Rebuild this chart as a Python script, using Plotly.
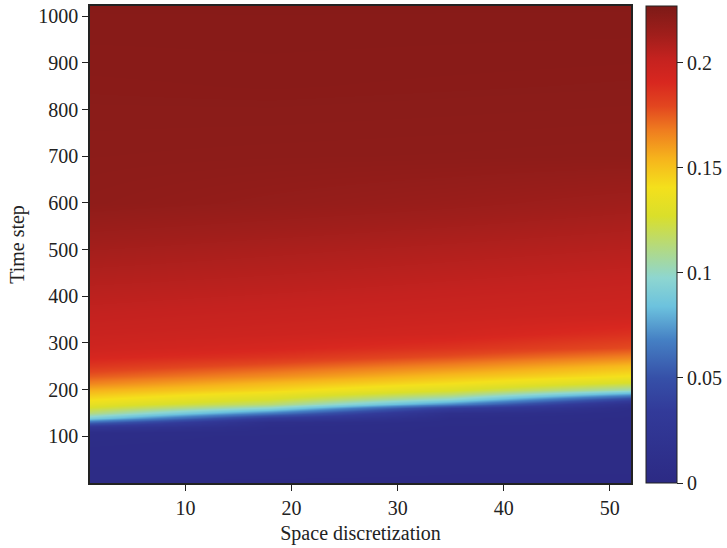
import plotly.graph_objects as go

# Space positions (columns) and time steps (rows) at which values were read
space_cols = [1, 18, 35, 52]
time_rows = [0, 100, 110, 120, 130, 140, 150, 160, 170, 180, 190, 200, 215,
             230, 250, 270, 290, 320, 360, 420, 500, 600, 700, 850, 1022]

# Values, one list per space column (bottom to top)
col_x1 = [0.003, 0.006, 0.008, 0.025, 0.060, 0.090, 0.112, 0.125, 0.134, 0.142,
          0.149, 0.155, 0.166, 0.175, 0.185, 0.192, 0.196, 0.199, 0.202, 0.206,
          0.212, 0.220, 0.221, 0.222, 0.223]
col_x18 = [0.003, 0.005, 0.006, 0.007, 0.011, 0.032, 0.066, 0.095, 0.115, 0.127,
           0.136, 0.144, 0.153, 0.164, 0.176, 0.186, 0.192, 0.197, 0.200, 0.2045,
           0.210, 0.218, 0.2207, 0.2222, 0.223]
col_x35 = [0.003, 0.004, 0.005, 0.005, 0.006, 0.007, 0.012, 0.035, 0.070, 0.097,
           0.116, 0.128, 0.141, 0.151, 0.165, 0.177, 0.186, 0.194, 0.198, 0.2025,
           0.208, 0.216, 0.2205, 0.222, 0.223]
col_x52 = [0.003, 0.004, 0.004, 0.005, 0.005, 0.005, 0.006, 0.007, 0.015, 0.042,
           0.076, 0.102, 0.125, 0.140, 0.152, 0.166, 0.178, 0.187, 0.196, 0.2005,
           0.206, 0.2135, 0.2202, 0.2218, 0.223]

x_ticks = [10, 20, 30, 40, 50]
y_ticks = [100, 200, 300, 400, 500, 600, 700, 800, 900, 1000]
cbar_ticks = [0, 0.05, 0.1, 0.15, 0.2]
cbar_labels = ["0", "0.05", "0.1", "0.15", "0.2"]

columns = [col_x1, col_x18, col_x35, col_x52]
z = [[columns[j][i] for j in range(len(space_cols))] for i in range(len(time_rows))]

zmax = 0.227
colorscale = [
    [0.00, "#2c2a84"],
    [0.15, "#323a99"],
    [0.22, "#3650a8"],
    [0.30, "#4580c4"],
    [0.37, "#6cc2de"],
    [0.43, "#8ed6d0"],
    [0.50, "#b7da78"],
    [0.56, "#dadf2a"],
    [0.62, "#f4e01c"],
    [0.68, "#f6b41c"],
    [0.74, "#ef7c1f"],
    [0.79, "#e2461f"],
    [0.84, "#d8271f"],
    [0.89, "#c4221f"],
    [0.94, "#a01e1b"],
    [1.00, "#7d1a17"],
]

font_family = "Liberation Serif, Times New Roman, serif"

fig = go.Figure(go.Heatmap(
    x=space_cols, y=time_rows, z=z,
    zmin=0, zmax=zmax, zsmooth="best",
    colorscale=colorscale,
    colorbar=dict(
        x=1.0276, xanchor="left", xpad=0, ypad=0,
        y=0.5, yanchor="middle", len=1, lenmode="fraction",
        thickness=31, outlinecolor="#222", outlinewidth=1,
        tickvals=cbar_ticks, ticktext=cbar_labels,
        ticks="outside", ticklen=6, tickcolor="#222",
        tickfont=dict(family=font_family, size=20, color="#222"),
    ),
))

fig.update_layout(
    width=727, height=548,
    margin=dict(l=89.5, r=95, t=4, b=65),
    paper_bgcolor="white", plot_bgcolor="white",
    font=dict(family=font_family, size=20, color="#222"),
    xaxis=dict(
        range=[1, 52], tickvals=x_ticks, ticks="outside", ticklen=6,
        tickcolor="#222", showline=True, linecolor="#222", linewidth=1.5,
        mirror=True, showgrid=False, zeroline=False,
        title=dict(text="Space discretization", standoff=8,
                   font=dict(family=font_family, size=20)),
        tickfont=dict(family=font_family, size=20),
    ),
    yaxis=dict(
        range=[0, 1022], tickvals=y_ticks, ticks="outside", ticklen=6,
        tickcolor="#222", showline=True, linecolor="#222", linewidth=1.5,
        mirror=True, showgrid=False, zeroline=False,
        title=dict(text="Time step", standoff=8,
                   font=dict(family=font_family, size=20)),
        tickfont=dict(family=font_family, size=20),
    ),
)

fig.write_html("out.html")
